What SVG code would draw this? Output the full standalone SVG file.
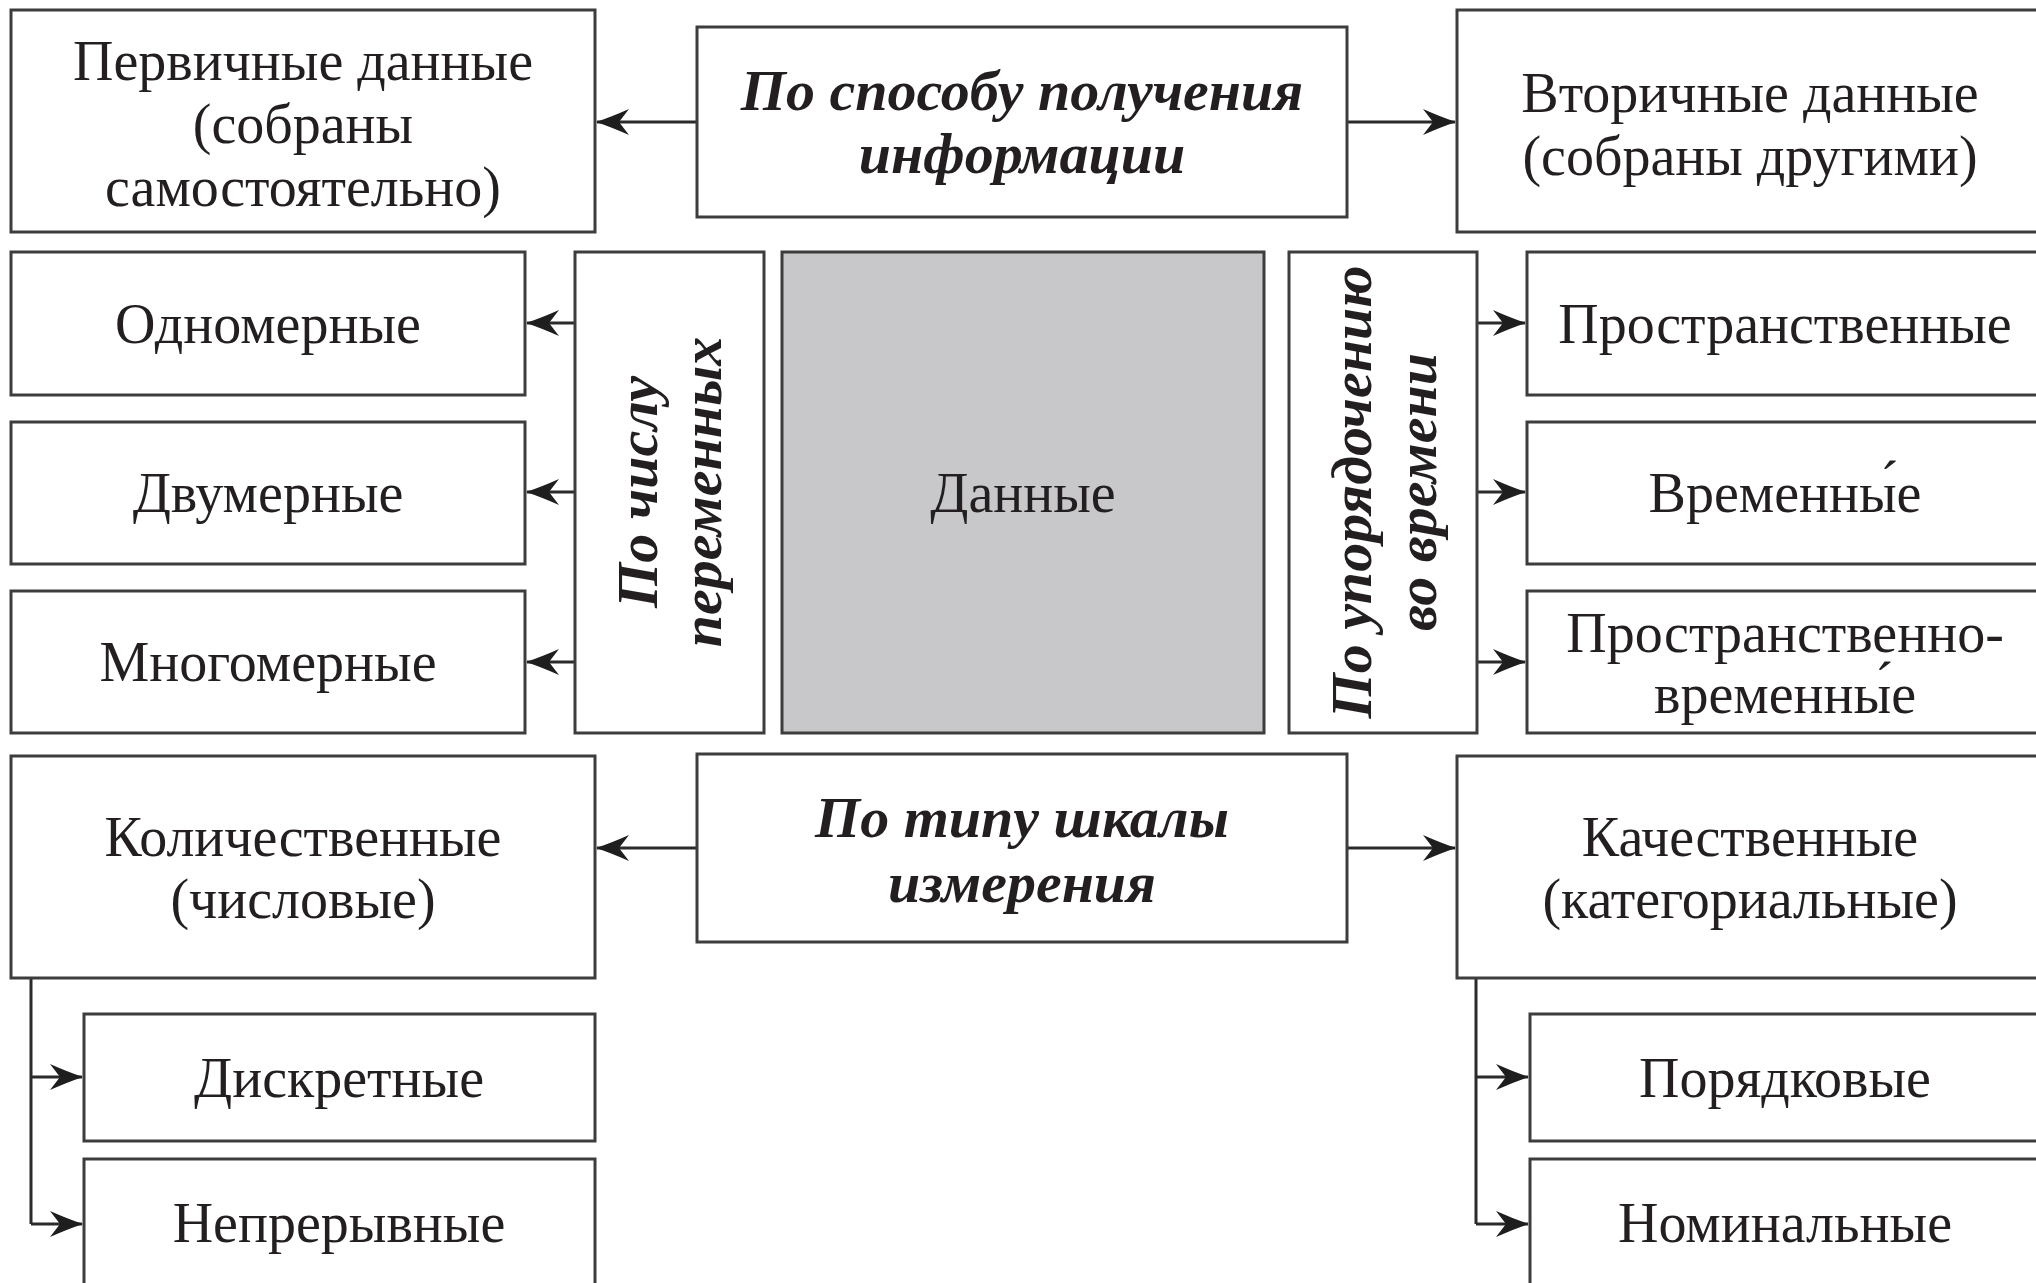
<svg xmlns="http://www.w3.org/2000/svg" width="2036" height="1283" viewBox="0 0 2036 1283">
<style>
.box{fill:#fff;stroke:#3d3d3d;stroke-width:3}
.gray{fill:#c8c8ca;stroke:#3d3d3d;stroke-width:3}
.t{font-family:"Liberation Serif","Times New Roman",serif;font-size:56px;fill:#231f20;text-anchor:middle}
.b{font-family:"Liberation Serif","Times New Roman",serif;font-size:58px;font-weight:bold;font-style:italic;fill:#231f20;text-anchor:middle}
.c{fill:none;stroke:#2b2b2b;stroke-width:3;marker-end:url(#ah)}
.l{fill:none;stroke:#2b2b2b;stroke-width:3}
</style>
<defs>
<marker id="ah" markerUnits="userSpaceOnUse" markerWidth="36" markerHeight="30" viewBox="-34 -15 36 30" refX="0" refY="0" orient="auto">
<path d="M1,0 Q-14,-5 -32,-13 L-22,0 L-32,13 Q-14,5 1,0 Z" fill="#1e1e1e"/>
</marker>
</defs>
<rect width="2036" height="1283" fill="#fff"/>
<g id="connectors">
<path class="c" d="M697,122 H597"/>
<path class="c" d="M1347,122 H1455"/>
<path class="c" d="M575,323 H527"/>
<path class="c" d="M575,492 H527"/>
<path class="c" d="M575,662 H527"/>
<path class="c" d="M1477,323 H1525"/>
<path class="c" d="M1477,492 H1525"/>
<path class="c" d="M1477,662 H1525"/>
<path class="c" d="M697,848 H597"/>
<path class="c" d="M1347,848 H1455"/>
<path class="l" d="M31,978 V1224"/>
<path class="c" d="M31,1077 H82"/>
<path class="c" d="M31,1224 H82"/>
<path class="l" d="M1476,978 V1224"/>
<path class="c" d="M1476,1077 H1528"/>
<path class="c" d="M1476,1224 H1528"/>
</g>
<g id="n_primary"><rect class="box" x="11" y="10" width="584" height="222"/><text class="t"><tspan x="303" y="80">Первичные данные</tspan><tspan x="303" y="143">(собраны</tspan><tspan x="303" y="206">самостоятельно)</tspan></text></g>
<g id="n_method"><rect class="box" x="697" y="27" width="650" height="190"/><text class="b"><tspan x="1022" y="110">По способу получения</tspan><tspan x="1022" y="173">информации</tspan></text></g>
<g id="n_secondary"><rect class="box" x="1457" y="10" width="590" height="222"/><text class="t"><tspan x="1750" y="112">Вторичные данные</tspan><tspan x="1750" y="175">(собраны другими)</tspan></text></g>
<g id="n_uni"><rect class="box" x="11" y="252" width="514" height="143"/><text class="t" x="268" y="343">Одномерные</text></g>
<g id="n_bi"><rect class="box" x="11" y="422" width="514" height="142"/><text class="t" x="268" y="512">Двумерные</text></g>
<g id="n_multi"><rect class="box" x="11" y="591" width="514" height="142"/><text class="t" x="268" y="681">Многомерные</text></g>
<g id="n_byvars"><rect class="box" x="575" y="252" width="189" height="481"/><text class="b" transform="translate(669,492) rotate(-90)"><tspan x="0" y="-12">По числу</tspan><tspan x="0" y="52">переменных</tspan></text></g>
<g id="n_data"><rect class="gray" x="782" y="252" width="482" height="481"/><text class="t" x="1023" y="512" fill="#3a3a3a">Данные</text></g>
<g id="n_bytime"><rect class="box" x="1289" y="252" width="188" height="481"/><text class="b" transform="translate(1383,492) rotate(-90)"><tspan x="0" y="-12">По упорядочению</tspan><tspan x="0" y="53">во времени</tspan></text></g>
<g id="n_spatial"><rect class="box" x="1527" y="252" width="520" height="143"/><text class="t" x="1785" y="343">Пространственные</text></g>
<g id="n_temporal"><rect class="box" x="1527" y="422" width="520" height="142"/><text class="t" x="1785" y="512">Временны́е</text></g>
<g id="n_spatiotemporal"><rect class="box" x="1527" y="591" width="520" height="142"/><text class="t"><tspan x="1785" y="652">Пространственно-</tspan><tspan x="1785" y="713">временны́е</tspan></text></g>
<g id="n_quant"><rect class="box" x="11" y="756" width="584" height="222"/><text class="t"><tspan x="303" y="856">Количественные</tspan><tspan x="303" y="918">(числовые)</tspan></text></g>
<g id="n_scale"><rect class="box" x="697" y="754" width="650" height="188"/><text class="b"><tspan x="1022" y="837">По типу шкалы</tspan><tspan x="1022" y="902">измерения</tspan></text></g>
<g id="n_qual"><rect class="box" x="1457" y="756" width="590" height="222"/><text class="t"><tspan x="1750" y="856">Качественные</tspan><tspan x="1750" y="918">(категориальные)</tspan></text></g>
<g id="n_discrete"><rect class="box" x="84" y="1014" width="511" height="127"/><text class="t" x="339" y="1097">Дискретные</text></g>
<g id="n_continuous"><rect class="box" x="84" y="1159" width="511" height="140"/><text class="t" x="339" y="1242">Непрерывные</text></g>
<g id="n_ordinal"><rect class="box" x="1530" y="1014" width="520" height="127"/><text class="t" x="1785" y="1097">Порядковые</text></g>
<g id="n_nominal"><rect class="box" x="1530" y="1159" width="520" height="140"/><text class="t" x="1785" y="1242">Номинальные</text></g>
</svg>
